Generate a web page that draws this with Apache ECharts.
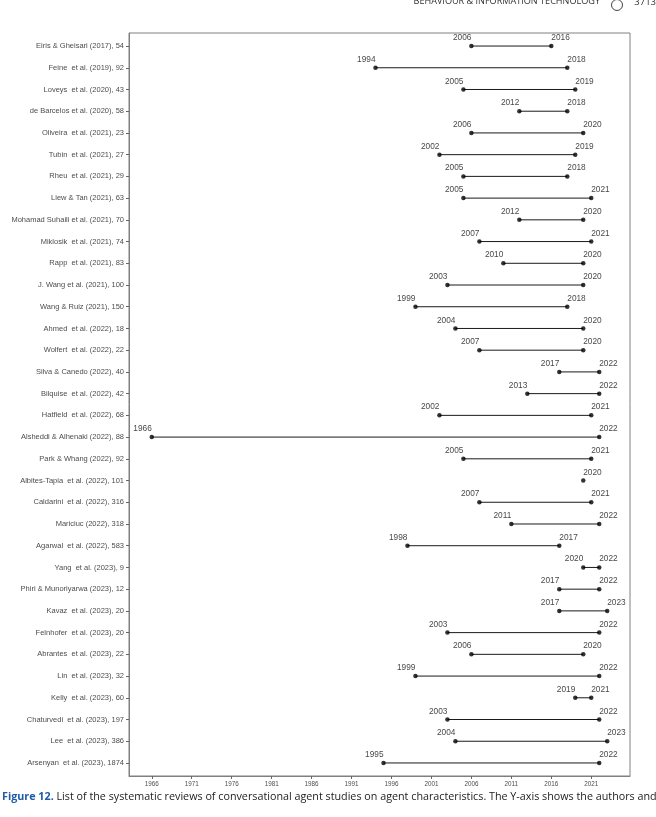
<!DOCTYPE html>
<html>
<head>
<meta charset="utf-8">
<script src="https://cdn.jsdelivr.net/npm/echarts@6/dist/echarts.min.js"></script>
<style>
html,body{margin:0;padding:0;background:#fff;}
#chart{width:656px;height:817px;}
</style>
</head>
<body>
<div id="chart"></div>
<script>
const studies = [
  "Eiris & Gheisari (2017), 54",
  "Feine  et al. (2019), 92",
  "Loveys  et al. (2020), 43",
  "de Barcelos et al. (2020), 58",
  "Oliveira  et al. (2021), 23",
  "Tubin  et al. (2021), 27",
  "Rheu  et al. (2021), 29",
  "Liew & Tan (2021), 63",
  "Mohamad Suhaili et al. (2021), 70",
  "Miklosik  et al. (2021), 74",
  "Rapp  et al. (2021), 83",
  "J. Wang et al. (2021), 100",
  "Wang & Ruiz (2021), 150",
  "Ahmed  et al. (2022), 18",
  "Wolfert  et al. (2022), 22",
  "Silva & Canedo (2022), 40",
  "Bilquise  et al. (2022), 42",
  "Hatfield  et al. (2022), 68",
  "Alsheddi & Alhenaki (2022), 88",
  "Park & Whang (2022), 92",
  "Albites-Tapia  et al. (2022), 101",
  "Caldarini  et al. (2022), 316",
  "Mariciuc (2022), 318",
  "Agarwal  et al. (2022), 583",
  "Yang  et al. (2023), 9",
  "Phiri & Munoriyarwa (2023), 12",
  "Kavaz  et al. (2023), 20",
  "Felnhofer  et al. (2023), 20",
  "Abrantes  et al. (2023), 22",
  "Lin  et al. (2023), 32",
  "Kelly  et al. (2023), 60",
  "Chaturvedi  et al. (2023), 197",
  "Lee  et al. (2023), 386",
  "Arsenyan  et al. (2023), 1874"
];
const startYears = [2006,1994,2005,2012,2006,2002,2005,2005,2012,2007,2010,2003,1999,2004,2007,2017,2013,2002,1966,2005,2020,2007,2011,1998,2020,2017,2017,2003,2006,1999,2019,2003,2004,1995];
const endYears   = [2016,2018,2019,2018,2020,2019,2018,2021,2020,2021,2020,2020,2018,2020,2020,2022,2022,2021,2022,2021,2020,2021,2022,2017,2022,2022,2023,2022,2020,2022,2021,2022,2023,2022];
const xTickYears = [1966,1971,1976,1981,1986,1991,1996,2001,2006,2011,2016,2021];
const headerText = "BEHAVIOUR & INFORMATION TECHNOLOGY";
const pageNumber = "3713";
const captionLabel = "Figure 12.";
const captionText = " List of the systematic reviews of conversational agent studies on agent characteristics. The Y-axis shows the authors and";

const rowIdx = studies.map((_, i) => i);
const segData = rowIdx.map(i => [startYears[i], endYears[i], i]);
const startData = rowIdx.map(i => {
  const same = startYears[i] === endYears[i];
  return {
    value: [startYears[i], i],
    label: {show: !same},
    itemStyle: same ? {opacity: 0} : undefined
  };
});
const endData = rowIdx.map(i => [endYears[i], i]);

const FONT = "'Liberation Sans', Arial, sans-serif";
const chart = echarts.init(document.getElementById('chart'), null, {renderer: 'canvas'});
const yearLabel = {
  show: true, position: 'top', distance: 2,
  fontFamily: FONT, fontSize: 8.3, color: '#111',
  formatter: p => String(p.value[0])
};
chart.setOption({
  animation: false,
  backgroundColor: '#fff',
  grid: {left: 129, right: 26, top: 33, bottom: 41, show: true, borderColor: '#808080', borderWidth: 1, backgroundColor: '#fff'},
  xAxis: {
    type: 'value', min: 1963.15, max: 2025.85,
    splitLine: {show: false},
    axisLine: {show: true, onZero: false, lineStyle: {color: '#808080', width: 1}},
    axisTick: {show: true, length: 3, lineStyle: {color: '#666'}, customValues: xTickYears},
    axisLabel: {customValues: xTickYears, formatter: v => String(v), fontFamily: FONT, fontSize: 6.3, color: '#4d4d4d', margin: 5}
  },
  yAxis: {
    type: 'value', inverse: true, min: -0.6, max: 33.6,
    splitLine: {show: false},
    axisLine: {show: true, onZero: false, lineStyle: {color: '#808080', width: 1}},
    axisTick: {show: true, length: 3, lineStyle: {color: '#666'}, customValues: rowIdx},
    axisLabel: {customValues: rowIdx, formatter: v => studies[Math.round(v)] || '', fontFamily: FONT, fontSize: 7.5, color: '#4d4d4d', margin: 5}
  },
  series: [
    {
      type: 'custom',
      data: segData,
      encode: {x: [0, 1], y: 2},
      renderItem: (params, api) => {
        const p1 = api.coord([api.value(0), api.value(2)]);
        const p2 = api.coord([api.value(1), api.value(2)]);
        return {type: 'line', shape: {x1: p1[0], y1: p1[1], x2: p2[0], y2: p2[1]}, style: {stroke: '#1a1a1a', lineWidth: 1}};
      },
      silent: true
    },
    {
      type: 'scatter', data: startData, symbol: 'circle', symbolSize: 4.5,
      itemStyle: {color: '#000'},
      label: Object.assign({}, yearLabel, {align: 'right'})
    },
    {
      type: 'scatter', data: endData, symbol: 'circle', symbolSize: 4.5,
      itemStyle: {color: '#000'},
      label: Object.assign({}, yearLabel, {align: 'left'})
    }
  ],
  graphic: [
    {type: 'text', right: 56, top: -3, style: {text: headerText, fontFamily: "'Open Sans', sans-serif", fontSize: 9.1, fill: '#333'}},
    {type: 'circle', shape: {cx: 617, cy: 5, r: 5.5}, style: {fill: '#fff', stroke: '#444', lineWidth: 1}},
    {type: 'text', right: 0, top: -3, style: {text: pageNumber, fontFamily: "'Open Sans', sans-serif", fontSize: 9.5, fill: '#333'}},
    {type: 'text', left: 2, top: 791, style: {
      text: '{a|' + captionLabel + '}{b|' + captionText + '}',
      rich: {
        a: {fontFamily: "'Open Sans', sans-serif", fontWeight: 'bold', fontSize: 10.75, fill: '#1f5aa6', color: '#1f5aa6'},
        b: {fontFamily: "'Open Sans', sans-serif", fontSize: 10.75, fill: '#222', color: '#222'}
      }
    }}
  ]
});
</script>
</body>
</html>
